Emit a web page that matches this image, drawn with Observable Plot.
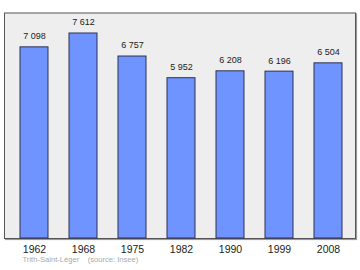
<!DOCTYPE html>
<html><head><meta charset="utf-8">
<script src="https://cdn.jsdelivr.net/npm/d3@7"></script>
<script src="https://cdn.jsdelivr.net/npm/@observablehq/plot@0.6"></script>
<style>body{margin:0;background:#fff}svg{display:block}</style>
</head><body>
<div id="chart"></div>
<script>
const years = ["1962", "1968", "1975", "1982", "1990", "1999", "2008"];
const population = [7098, 7612, 6757, 5952, 6208, 6196, 6504];
const captionText = "Trith-Saint-Léger \u00a0\u00a0\u00a0(source: Insee)";

const data = years.map((y, i) => ({year: y, value: population[i]}));
const fmt = d3.formatLocale({decimal: ",", thousands: " ", grouping: [3], currency: ["", ""]}).format(",d");

const chart = Plot.plot({
  width: 360,
  height: 270,
  marginTop: 12,
  marginBottom: 32,
  marginLeft: 8,
  marginRight: 7,
  style: {fontFamily: "'Liberation Sans', Arial, sans-serif", background: "#fff"},
  x: {domain: years, paddingInner: 0.43, paddingOuter: 0.22, label: null},
  y: {domain: [0, 8392], axis: null},
  marks: [
    Plot.frame({stroke: "#9a9a9a", strokeWidth: 1.2, insetLeft: -4, insetRight: -2, insetTop: 0.5, dx: 1, dy: 1}),
    Plot.frame({fill: "#eeeeee", stroke: "#555", strokeWidth: 1, insetLeft: -4, insetRight: -2, insetTop: 0.5}),
    Plot.barY(data, {x: "year", y: "value", fill: "#7094ff", stroke: "#2a3050", strokeWidth: 1}),
    Plot.text(data, {x: "year", y: "value", text: d => fmt(d.value), dy: -11, fontSize: 9, fill: "#222"}),
    Plot.axisX({tickSize: 0, tickPadding: 7, fontSize: 10.5, color: "#222", label: null}),
    Plot.text([captionText], {frameAnchor: "bottom-left", text: d => d, dx: 14, dy: 23, fontSize: 7.6, fill: "#aaa", textAnchor: "start"})
  ]
});
document.getElementById("chart").append(chart);
</script>
</body></html>
